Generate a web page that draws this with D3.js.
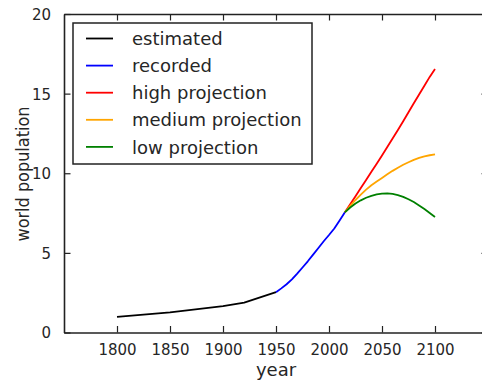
<!DOCTYPE html>
<html>
<head>
<meta charset="utf-8">
<script src="https://cdn.jsdelivr.net/npm/d3@7"></script>
<style>
  html, body { margin: 0; padding: 0; background: #fff; }
  svg { display: block; font-family: "DejaVu Sans", sans-serif; }
</style>
</head>
<body>
<svg id="chart" width="482" height="383"></svg>
<script>
// World population (billions)
const estimatedYears = [1800, 1850, 1900, 1920, 1950];
const estimatedPop   = [0.98, 1.26, 1.65, 1.87, 2.53];

const recordedYears = [1950, 1955, 1960, 1965, 1970, 1975, 1980, 1985, 1990, 1995, 2000, 2005, 2010, 2015];
const recordedPop   = [2.53, 2.77, 3.03, 3.34, 3.70, 4.08, 4.47, 4.89, 5.31, 5.73, 6.12, 6.53, 7.03, 7.55];

const projYears = [2015, 2020, 2025, 2030, 2035, 2040, 2045, 2050, 2055, 2060, 2065, 2070, 2075, 2080, 2085, 2090, 2095, 2100];
const highPop   = [7.55, 8.05, 8.55, 9.07, 9.58, 10.09, 10.60, 11.12, 11.65, 12.18, 12.72, 13.27, 13.83, 14.40, 14.95, 15.50, 16.05, 16.55];
const mediumPop = [7.55, 7.95, 8.32, 8.66, 8.97, 9.25, 9.48, 9.70, 9.93, 10.15, 10.35, 10.53, 10.69, 10.84, 10.96, 11.06, 11.13, 11.19];
const lowPop    = [7.55, 7.85, 8.10, 8.30, 8.46, 8.58, 8.67, 8.72, 8.73, 8.70, 8.63, 8.52, 8.37, 8.19, 7.98, 7.75, 7.50, 7.25];

const seriesNames  = ["estimated", "recorded", "high projection", "medium projection", "low projection"];
const seriesColors = ["#000000", "#0000ff", "#ff0000", "#ffa500", "#008000"];

const xTicks = [1800, 1850, 1900, 1950, 2000, 2050, 2100];
const yTicks = [0, 5, 10, 15, 20];

const series = [
  { years: estimatedYears, values: estimatedPop },
  { years: recordedYears,  values: recordedPop },
  { years: projYears,      values: highPop },
  { years: projYears,      values: mediumPop },
  { years: projYears,      values: lowPop }
].map((s, i) => ({ name: seriesNames[i], color: seriesColors[i],
  points: s.years.map((yr, j) => [yr, s.values[j]]) }));

const svg = d3.select("#chart");
const plotLeft = 64, plotRight = 488, plotTop = 14, plotBottom = 332.5;

const x = d3.scaleLinear().domain([1750, 2150]).range([plotLeft, plotRight]);
const y = d3.scaleLinear().domain([0, 20]).range([plotBottom, plotTop]);

const spine = "#222";
const textColor = "#262626";

// data lines
const line = d3.line().x(d => x(d[0])).y(d => y(d[1]));
svg.append("g").selectAll("path").data(series).join("path")
  .attr("d", d => line(d.points))
  .attr("fill", "none")
  .attr("stroke", d => d.color)
  .attr("stroke-width", 1.8)
  .attr("stroke-linejoin", "round");

// axes with inward ticks on all four sides
const tickLen = 6.5;
const axB = svg.append("g").attr("transform", `translate(0,${plotBottom})`)
  .call(d3.axisBottom(x).tickValues(xTicks).tickFormat(d3.format("d")).tickSizeInner(-tickLen).tickSizeOuter(0).tickPadding(12));
const axT = svg.append("g").attr("transform", `translate(0,${plotTop})`)
  .call(d3.axisTop(x).tickValues(xTicks).tickFormat("").tickSizeInner(-tickLen).tickSizeOuter(0));
const axL = svg.append("g").attr("transform", `translate(${plotLeft},0)`)
  .call(d3.axisLeft(y).tickValues(yTicks).tickFormat(d3.format("d")).tickSizeInner(-tickLen).tickSizeOuter(0).tickPadding(13));
const axR = svg.append("g").attr("transform", `translate(${plotRight},0)`)
  .call(d3.axisRight(y).tickValues(yTicks).tickFormat("").tickSizeInner(-tickLen).tickSizeOuter(0));

[axB, axT, axL, axR].forEach(g => {
  g.select(".domain").attr("stroke", spine).attr("stroke-width", 1.6);
  g.selectAll(".tick line").attr("stroke", spine).attr("stroke-width", 1.2);
  g.selectAll("text").attr("fill", textColor).attr("font-size", 15)
    .attr("font-family", "DejaVu Sans, sans-serif");
});
axL.selectAll(".tick text").attr("dy", "0.36em");

// axis labels
svg.append("text")
  .attr("x", 276).attr("y", 376)
  .attr("text-anchor", "middle")
  .attr("font-size", 18).attr("fill", textColor)
  .text("year");
svg.append("text")
  .attr("transform", `translate(28.5,${(97 + 251) / 2}) rotate(-90) scale(0.92,1)`)
  .attr("text-anchor", "middle")
  .attr("font-size", 17.5).attr("fill", textColor)
  .text("world population");

// legend
const legend = svg.append("g");
legend.append("rect")
  .attr("x", 73).attr("y", 23).attr("width", 239).attr("height", 141)
  .attr("fill", "#fff").attr("stroke", spine).attr("stroke-width", 1.5);
const items = legend.selectAll("g.item").data(series).join("g")
  .attr("class", "item")
  .attr("transform", (d, i) => `translate(0,${38.5 + i * 27.1})`);
items.append("line")
  .attr("x1", 86).attr("x2", 113).attr("y1", 0).attr("y2", 0)
  .attr("stroke", d => d.color).attr("stroke-width", 1.8);
items.append("text")
  .attr("x", 132).attr("y", 6.6)
  .attr("font-size", 18).attr("fill", textColor)
  .text(d => d.name);
</script>
</body>
</html>
